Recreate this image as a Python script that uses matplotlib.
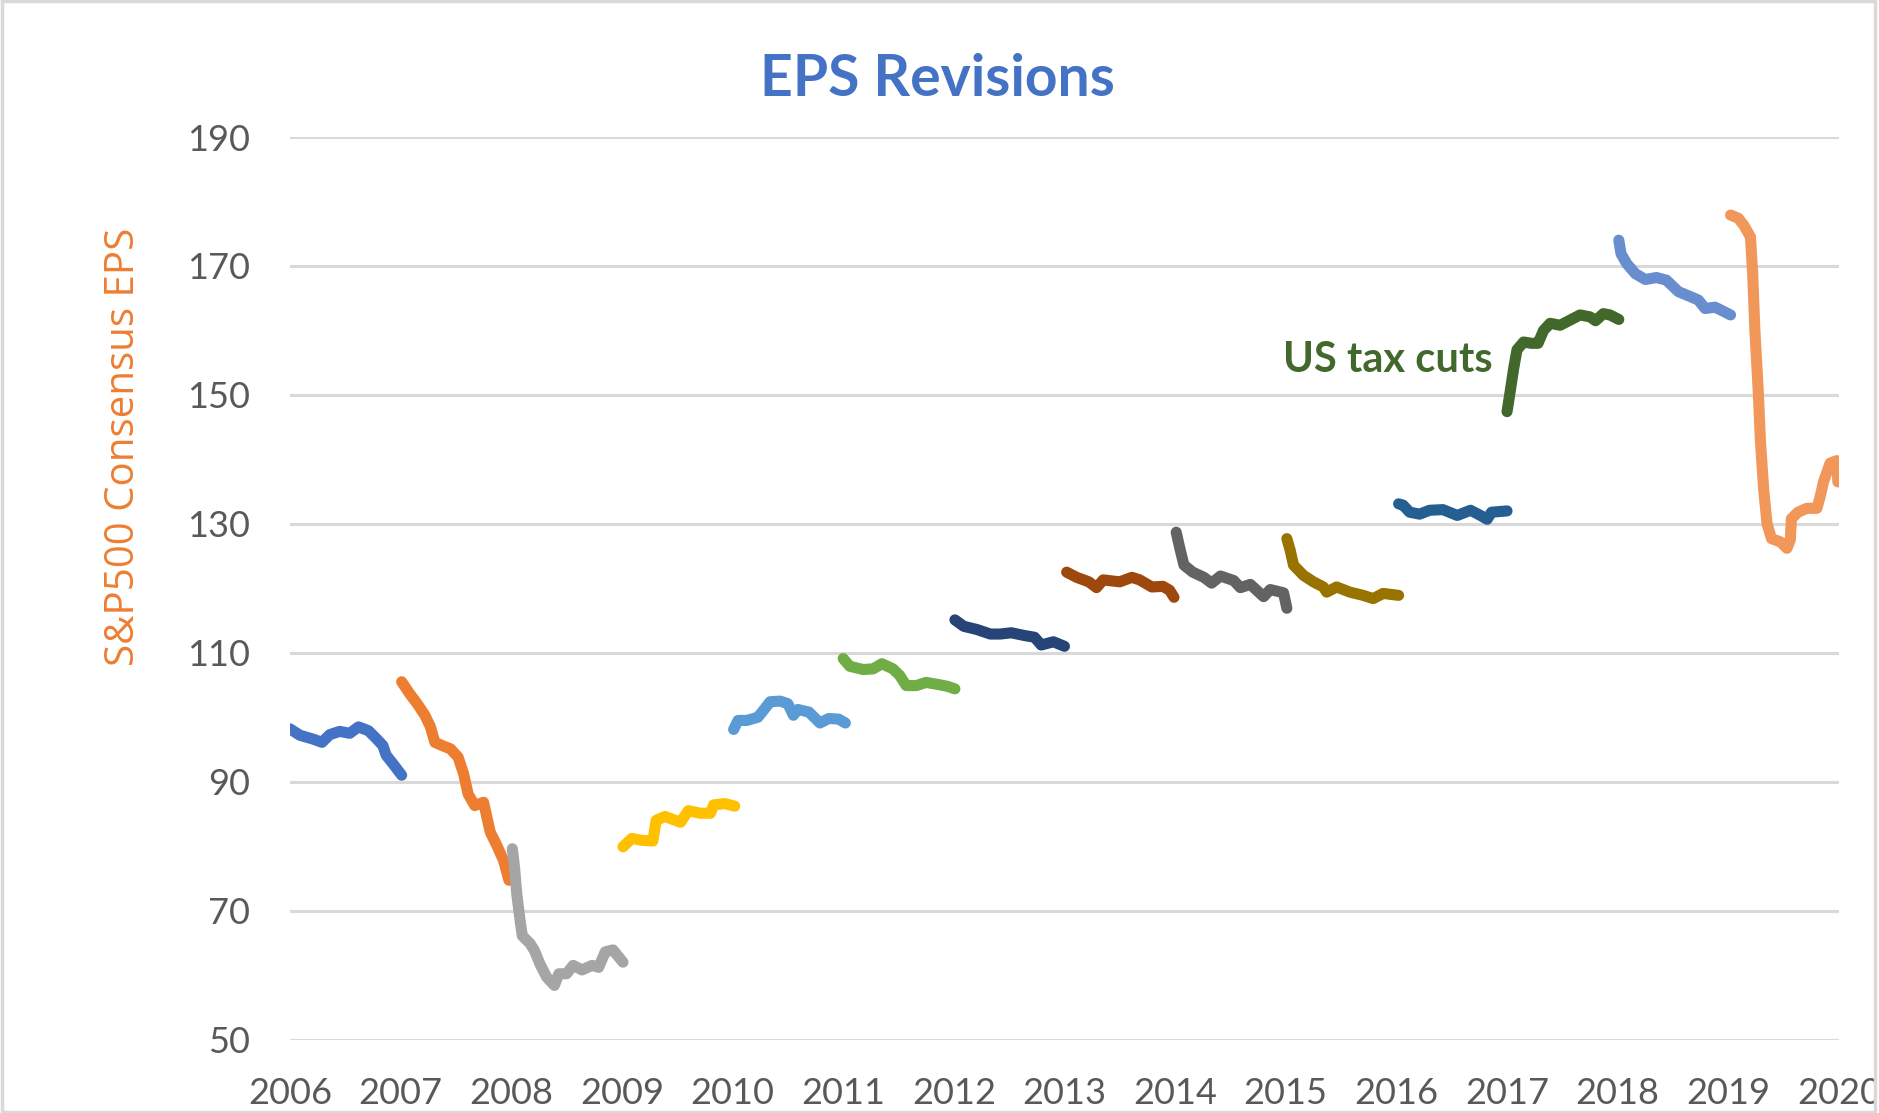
import matplotlib.pyplot as plt
from matplotlib.patches import Rectangle

# Консенсус-прогноз EPS по годам (дата в долях года, значение EPS)
x_2006 = [2006.00, 2006.09, 2006.21, 2006.29, 2006.36, 2006.45, 2006.54, 2006.62, 2006.71, 2006.78, 2006.84, 2006.87, 2006.93, 2007.01]
y_2006 = [98.2, 97.2, 96.6, 96.1, 97.3, 97.8, 97.5, 98.5, 97.9, 96.7, 95.6, 94.1, 92.8, 91.0]

x_2007 = [2007.01, 2007.08, 2007.15, 2007.22, 2007.27, 2007.31, 2007.39, 2007.45, 2007.52, 2007.57, 2007.61, 2007.67, 2007.75, 2007.78, 2007.81, 2007.87, 2007.93, 2007.98]
y_2007 = [105.5, 103.7, 102.1, 100.3, 98.5, 96.1, 95.5, 95.1, 93.8, 91.2, 88.1, 86.3, 86.8, 84.5, 82.2, 80.1, 77.8, 74.7]

x_2008 = [2008.01, 2008.03, 2008.05, 2008.08, 2008.10, 2008.17, 2008.21, 2008.26, 2008.32, 2008.39, 2008.43, 2008.50, 2008.56, 2008.64, 2008.73, 2008.79, 2008.85, 2008.92, 2009.01]
y_2008 = [79.6, 76.7, 72.6, 68.5, 66.1, 64.9, 63.8, 61.7, 59.7, 58.4, 60.2, 60.2, 61.5, 60.8, 61.5, 61.2, 63.6, 63.9, 62.0]

x_2009 = [2009.01, 2009.09, 2009.18, 2009.28, 2009.31, 2009.39, 2009.53, 2009.60, 2009.71, 2009.80, 2009.83, 2009.93, 2010.02]
y_2009 = [79.9, 81.2, 80.9, 80.8, 84.0, 84.6, 83.7, 85.5, 85.1, 85.1, 86.4, 86.6, 86.2]

x_2010 = [2010.01, 2010.05, 2010.13, 2010.23, 2010.29, 2010.34, 2010.43, 2010.50, 2010.55, 2010.59, 2010.69, 2010.79, 2010.87, 2010.96, 2011.02]
y_2010 = [98.1, 99.5, 99.5, 100.0, 101.3, 102.4, 102.5, 102.1, 100.3, 101.2, 100.8, 99.1, 99.8, 99.7, 99.1]

x_2011 = [2011.00, 2011.06, 2011.18, 2011.27, 2011.35, 2011.45, 2011.51, 2011.57, 2011.66, 2011.75, 2011.85, 2011.94, 2012.01]
y_2011 = [109.1, 107.9, 107.4, 107.5, 108.3, 107.5, 106.5, 104.9, 104.9, 105.4, 105.1, 104.8, 104.4]

x_2012 = [2012.01, 2012.09, 2012.21, 2012.33, 2012.42, 2012.52, 2012.63, 2012.73, 2012.79, 2012.90, 2013.00]
y_2012 = [115.1, 114.1, 113.6, 112.9, 112.9, 113.1, 112.7, 112.4, 111.2, 111.7, 111.0]

x_2013 = [2013.02, 2013.11, 2013.22, 2013.29, 2013.35, 2013.50, 2013.61, 2013.68, 2013.79, 2013.89, 2013.95, 2013.99]
y_2013 = [122.5, 121.7, 121.0, 120.1, 121.3, 121.0, 121.7, 121.3, 120.2, 120.3, 119.7, 118.6]

x_2014 = [2014.01, 2014.04, 2014.08, 2014.16, 2014.26, 2014.33, 2014.41, 2014.53, 2014.59, 2014.68, 2014.80, 2014.86, 2014.98, 2015.01]
y_2014 = [128.7, 126.4, 123.6, 122.5, 121.7, 120.8, 121.9, 121.2, 120.1, 120.6, 118.7, 119.8, 119.3, 116.9]

x_2015 = [2015.01, 2015.04, 2015.07, 2015.16, 2015.25, 2015.34, 2015.37, 2015.46, 2015.58, 2015.70, 2015.79, 2015.88, 2016.02]
y_2015 = [127.7, 125.9, 123.6, 122.0, 121.0, 120.2, 119.4, 120.2, 119.4, 118.9, 118.4, 119.2, 118.9]

x_2016 = [2016.02, 2016.06, 2016.12, 2016.21, 2016.30, 2016.42, 2016.55, 2016.67, 2016.76, 2016.82, 2016.86, 2017.00]
y_2016 = [133.1, 132.9, 131.8, 131.5, 132.1, 132.2, 131.3, 132.1, 131.3, 130.7, 131.8, 132.0]

x_2017 = [2017.00, 2017.03, 2017.06, 2017.09, 2017.15, 2017.22, 2017.28, 2017.33, 2017.39, 2017.48, 2017.57, 2017.66, 2017.75, 2017.80, 2017.87, 2017.93, 2018.01]
y_2017 = [147.4, 150.7, 154.1, 157.0, 158.2, 158.0, 158.0, 160.0, 161.1, 160.8, 161.6, 162.4, 162.1, 161.5, 162.6, 162.4, 161.7]

x_2018 = [2018.01, 2018.03, 2018.08, 2018.16, 2018.25, 2018.35, 2018.44, 2018.55, 2018.65, 2018.73, 2018.79, 2018.88, 2018.94, 2019.02]
y_2018 = [174.0, 171.9, 170.4, 168.8, 167.9, 168.2, 167.8, 166.0, 165.3, 164.7, 163.4, 163.6, 163.1, 162.4]

x_2019 = [2019.02, 2019.09, 2019.14, 2019.20, 2019.22, 2019.24, 2019.27, 2019.29, 2019.32, 2019.35, 2019.39, 2019.47, 2019.53, 2019.56, 2019.57, 2019.63, 2019.71, 2019.80, 2019.83, 2019.86, 2019.92, 2019.98, 2019.99]
y_2019 = [177.9, 177.4, 176.3, 174.5, 168.8, 160.0, 150.7, 142.9, 135.2, 130.0, 127.7, 127.2, 126.2, 127.5, 130.8, 131.8, 132.4, 132.4, 134.2, 136.5, 139.4, 139.8, 136.5]

series_x = [x_2006, x_2007, x_2008, x_2009, x_2010, x_2011, x_2012,
            x_2013, x_2014, x_2015, x_2016, x_2017, x_2018, x_2019]
series_y = [y_2006, y_2007, y_2008, y_2009, y_2010, y_2011, y_2012,
            y_2013, y_2014, y_2015, y_2016, y_2017, y_2018, y_2019]

# Палитра Excel по умолчанию
colors = ['#4472C4', '#ED7D31', '#A5A5A5', '#FFC000', '#5B9BD5', '#70AD47', '#264478',
          '#9E480E', '#636363', '#997300', '#255E91', '#43682B', '#698ED0', '#F1975A']

year_ticks = list(range(2006, 2021))
eps_ticks = list(range(50, 191, 20))

plt.rcParams['font.family'] = ['Lato', 'DejaVu Sans']

fig = plt.figure(figsize=(18.79, 11.13), dpi=100)
ax = fig.add_axes([0.1543, 0.066, 0.8244, 0.8109])

for xs, ys, c in zip(series_x, series_y, colors):
    ax.plot(xs, ys, color=c, linewidth=8, solid_capstyle='round', solid_joinstyle='round')

ax.set_xlim(2006, 2020)
ax.set_ylim(50, 190)
ax.set_xticks(year_ticks)
ax.set_yticks(eps_ticks)
ax.tick_params(axis='both', length=0, labelsize=26, labelcolor='#595959')
ax.tick_params(axis='x', pad=27)
ax.tick_params(axis='y', pad=29)

ax.grid(axis='y', color='#D9D9D9', linewidth=2.2)
ax.set_axisbelow(True)
for s in ax.spines.values():
    s.set_visible(False)

ax.set_ylabel('S&P500 Consensus EPS', fontsize=29, color='#ED7D31',
              family='Open Sans', labelpad=0)
ax.yaxis.set_label_coords(-0.094, 0.6565)

ax.text(2015.92, 153.6, 'US tax cuts', fontsize=30, fontweight='bold',
        color='#43682B', ha='center', va='baseline')

fig.text(0.499, 0.9134, 'EPS Revisions', fontsize=41, fontweight='bold',
         color='#4472C4', ha='center', va='baseline')

# Рамка вокруг диаграммы (обрезает подпись 2020)
fig.patches.append(Rectangle((0.9985, 0), 0.0015, 1, transform=fig.transFigure,
                             facecolor='white', edgecolor='none', zorder=10))
fig.patches.append(Rectangle((0.0008, 0.0013), 0.9970, 0.9974, transform=fig.transFigure,
                             facecolor='none', edgecolor='#D9D9D9', linewidth=2.5, zorder=11))

fig.savefig('out.png', dpi=100)
